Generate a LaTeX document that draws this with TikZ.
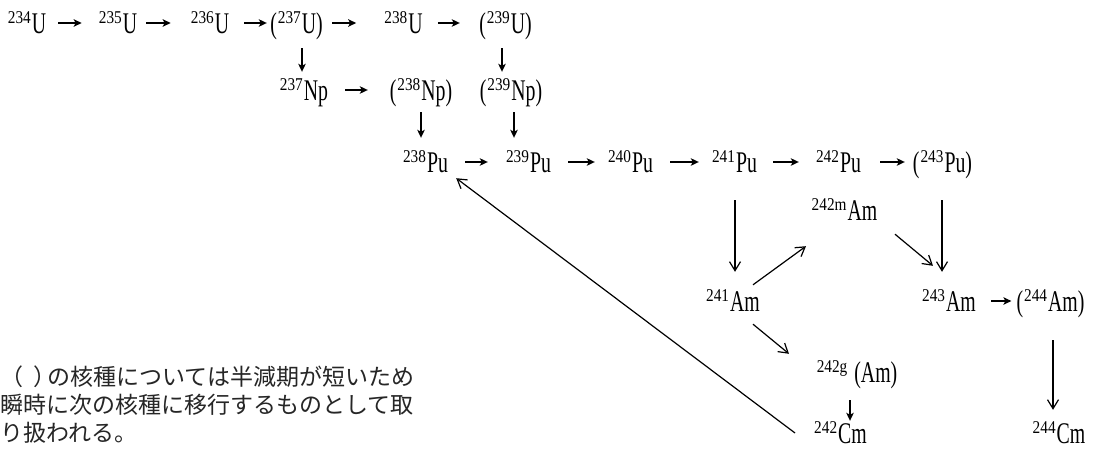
\documentclass[tikz,border=0pt]{standalone}
\usepackage{fontspec}
\usetikzlibrary{arrows.meta}
\newfontfamily\nucfont[FakeStretch=0.66]{Liberation Serif}
\newfontfamily\supfont[FakeStretch=0.85]{Liberation Serif}
\newfontfamily\jpfont{Noto Sans CJK JP}
\newcommand{\bigf}{\nucfont\fontsize{30}{30}\selectfont}
\newcommand{\supm}[1]{\raisebox{10pt}{\supfont\fontsize{18}{18}\selectfont #1}}
\newcommand{\nucl}[2]{\supm{#1}\kern1pt{\bigf #2}}
\newcommand{\pnucl}[2]{{\bigf(}\kern1pt\nucl{#1}{#2}{\bigf)}}
\begin{document}
\begin{tikzpicture}[x=1pt,y=-1pt,
  lbl/.style={inner sep=0pt, text height=20pt, text depth=0pt, anchor=base, minimum width=#1},
  jp/.style={inner sep=0pt, anchor=base west, font=\jpfont\fontsize{23}{23}\selectfont, text=black!85},
  sarr/.style={line width=1.4pt, -{Stealth[length=8pt,width=7.5pt,inset=2pt]}},
  larr/.style={line width=1.2pt, -{Straight Barb[length=9pt,width=11pt]}}]
\useasboundingbox (0,0) rectangle (1095,450);
\fill[white] (0,0) rectangle (1095,450);
% row 1
\node[lbl=40pt] (u234) at (27,33) {\nucl{234}{U}};
\node[lbl=38pt] (u235) at (118,33) {\nucl{235}{U}};
\node[lbl=36pt] (u236) at (210,33) {\nucl{236}{U}};
\node[lbl=57pt] (u237) at (296.5,33) {\pnucl{237}{U}};
\node[lbl=37pt] (u238) at (403.5,33) {\nucl{238}{U}};
\node[lbl=55pt] (u239) at (505.5,33) {\pnucl{239}{U}};
% row 2
\node[lbl=52pt] (np237) at (304,100) {\nucl{237}{Np}};
\node[lbl=68pt] (np238) at (421,100) {\pnucl{238}{Np}};
\node[lbl=68pt] (np239) at (511,100) {\pnucl{239}{Np}};
% row 3
\node[lbl=49pt] (pu238) at (425.5,172) {\nucl{238}{Pu}};
\node[lbl=49pt] (pu239) at (528.5,172) {\nucl{239}{Pu}};
\node[lbl=49pt] (pu240) at (630.5,172) {\nucl{240}{Pu}};
\node[lbl=49pt] (pu241) at (734.5,172) {\nucl{241}{Pu}};
\node[lbl=49pt] (pu242) at (838.5,172) {\nucl{242}{Pu}};
\node[lbl=69pt] (pu243) at (942.5,172) {\pnucl{243}{Pu}};
% Am
\node[lbl=57pt] (am242m) at (844.5,220) {\nucl{242m}{Am}};
\node[lbl=50pt] (am241) at (733,311) {\nucl{241}{Am}};
\node[lbl=52pt] (am243) at (949,311) {\nucl{243}{Am}};
\node[lbl=63pt] (am244) at (1050.5,311) {\pnucl{244}{Am}};
\node[lbl=82pt] (am242g) at (857,382) {\supm{242g}\kern7pt{\bigf(Am)}};
% Cm
\node[lbl=49pt] (cm242) at (840.5,443) {\nucl{242}{Cm}};
\node[lbl=50pt] (cm244) at (1059,443) {\nucl{244}{Cm}};
% note
\node[jp] (n1) at (0,385) {（\kern-.35em　\kern-.2em）\kern-.4emの核種については半減期が短いため};
\node[jp] (n2) at (0,413) {瞬時に次の核種に移行するものとして取};
\node[jp] (n3) at (0,441) {り扱われる。};
% row 1 arrows
\draw[sarr, shorten <=11pt, shorten >=17pt] (u234) -- (u235);
\draw[sarr, shorten <=9pt, shorten >=20pt] (u235) -- (u236);
\draw[sarr, shorten <=15pt, shorten >=1pt] (u236) -- (u237);
\draw[sarr, shorten <=7pt, shorten >=28pt] (u237) -- (u238);
\draw[sarr, shorten <=15pt, shorten >=18pt] (u238) -- (u239);
% down to row 2
\draw[sarr, shorten <=15pt, shorten >=8pt] ([xshift=5.5pt]u237.south) -- ([xshift=-2pt]np237.north);
\draw[sarr, shorten <=15pt, shorten >=8pt] ([xshift=-3.5pt]u239.south) -- ([xshift=-9pt]np239.north);
\draw[sarr, shorten <=15pt, shorten >=19pt] (np237) -- (np238);
% down to row 3
\draw[sarr, shorten <=12pt, shorten >=14pt] (np238.south) -- ([xshift=-4.5pt]pu238.north);
\draw[sarr, shorten <=12pt, shorten >=14pt] ([xshift=3pt]np239.south) -- ([xshift=-14.5pt]pu239.north);
% row 3 arrows
\draw[sarr, shorten <=15pt, shorten >=16pt] (pu238) -- (pu239);
\draw[sarr, shorten <=15pt, shorten >=11pt] (pu239) -- (pu240);
\draw[sarr, shorten <=15pt, shorten >=11pt] (pu240) -- (pu241);
\draw[sarr, shorten <=14pt, shorten >=15pt] (pu241) -- (pu242);
\draw[sarr, shorten <=17pt, shorten >=3pt] (pu242) -- (pu243);
% Pu to Am
\draw[larr, shorten <=28pt, shorten >=19pt] ([xshift=0.5pt]pu241.south) -- ([xshift=2pt]am241.north);
\draw[larr, shorten <=28pt, shorten >=19pt] ([xshift=-0.5pt]pu243.south) -- ([xshift=-7pt]am243.north);
% Am branches
\draw[larr] ([xshift=20pt,yshift=6pt]am241.north) -- ([xshift=-38.5pt,yshift=-26pt]am242m.south);
\draw[larr] ([xshift=50.5pt,yshift=-14pt]am242m.south) -- ([xshift=-16pt,yshift=25pt]am243.north);
\draw[larr] ([xshift=20pt,yshift=-13pt]am241.south) -- ([xshift=-68pt,yshift=8pt]am242g.north);
\draw[sarr, shorten <=15pt, shorten >=5pt] (am243) -- (am244);
% to Cm
\draw[sarr, shorten <=18pt, shorten >=2pt] ([xshift=-7pt]am242g.south) -- ([xshift=9.5pt]cm242.north);
\draw[larr, shorten <=29pt, shorten >=13pt] ([xshift=2.5pt]am244.south) -- ([xshift=-6pt]cm244.north);
% long return arrow
\draw[larr] ([xshift=-19pt]cm242.west) -- ([xshift=6pt,yshift=-6pt]pu238.south east);
\end{tikzpicture}
\end{document}
